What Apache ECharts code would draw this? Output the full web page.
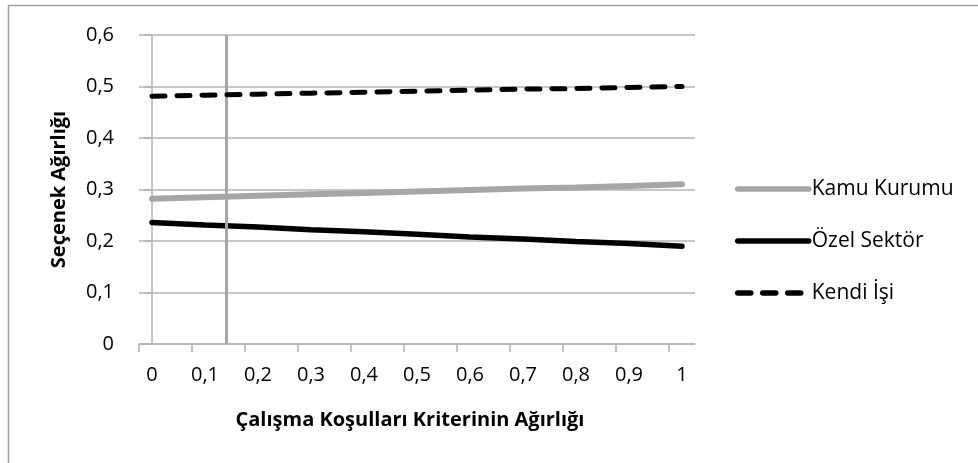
<!DOCTYPE html>
<html>
<head>
<meta charset="utf-8">
<script src="https://cdn.jsdelivr.net/npm/echarts@6/dist/echarts.min.js"></script>
<style>
  html, body { margin: 0; padding: 0; background: #fff; }
  #chart { width: 978px; height: 463px; }
</style>
</head>
<body>
<div id="chart"></div>
<script>
// x positions (criterion weight) and the three option weights
const xValues = [0, 0.1, 0.2, 0.3, 0.4, 0.5, 0.6, 0.7, 0.8, 0.9, 1]
const kamuKurumu = [0.282, 0.285, 0.288, 0.291, 0.293, 0.296, 0.299, 0.302, 0.304, 0.307, 0.310]
const ozelSektor = [0.236, 0.231, 0.227, 0.222, 0.218, 0.213, 0.208, 0.204, 0.199, 0.195, 0.190]
const kendiIsi = [0.481, 0.483, 0.485, 0.487, 0.489, 0.491, 0.493, 0.495, 0.496, 0.498, 0.500]
const currentWeight = 0.14
const xTickLabels = [0, 0.1, 0.2, 0.3, 0.4, 0.5, 0.6, 0.7, 0.8, 0.9, 1]

// excel puts the tick marks half a step off the labels
const xPad = 0.0245
const xTicks = xTickLabels.map(v => v - xPad)

const font = '"Open Sans", sans-serif'
const gridGray = '#b3b3b3'

const pair = arr => xValues.map((x, i) => [x, arr[i]])
const comma = v => String(Math.round(v * 10) / 10).replace('.', ',')

const chart = echarts.init(document.getElementById('chart'))
chart.setOption({
  animation: false,
  backgroundColor: '#fff',
  textStyle: { fontFamily: font },
  graphic: [{
    type: 'rect',
    shape: { x: 8.5, y: 5.5, width: 1000, height: 1000 },
    style: { fill: 'none', stroke: '#a0a0a0', lineWidth: 1.5 },
    silent: true,
  }],
  grid: { left: 139, right: 283, top: 35, bottom: 119 },
  legend: {
    orient: 'vertical',
    left: 735,
    top: 178,
    padding: 0,
    itemWidth: 71,
    itemHeight: 22,
    itemGap: 30,
    itemStyle: { opacity: 0 },
    lineStyle: { width: 5.5, cap: 'round' },
    textStyle: { color: '#000', fontSize: 21, fontFamily: font, lineHeight: 22, padding: [0, 0, 0, -2] },
    data: ['Kamu Kurumu', 'Özel Sektör', 'Kendi İşi'],
  },
  xAxis: {
    type: 'value',
    min: -xPad,
    max: 1 + xPad,
    name: 'Çalışma Koşulları Kriterinin Ağırlığı',
    nameLocation: 'middle',
    nameGap: 66,
    nameTextStyle: { color: '#000', fontSize: 20, fontWeight: 'bold', fontFamily: font, padding: [0, 14, 0, 0] },
    axisLine: { show: true, lineStyle: { color: gridGray, width: 1.5 } },
    axisTick: { show: true, length: 8, lineStyle: { color: gridGray, width: 1.5 }, customValues: xTicks },
    axisLabel: { color: '#000', fontSize: 20, margin: 21, customValues: xTickLabels, formatter: comma },
    splitLine: { show: false },
  },
  yAxis: {
    type: 'value',
    min: 0,
    max: 0.6,
    interval: 0.1,
    name: 'Seçenek Ağırlığı',
    nameLocation: 'middle',
    nameGap: 70,
    nameTextStyle: { color: '#000', fontSize: 20, fontWeight: 'bold', fontFamily: font },
    axisLine: { show: true, lineStyle: { color: gridGray, width: 1.5 } },
    axisTick: { show: true, length: 8, lineStyle: { color: gridGray, width: 1.5 } },
    axisLabel: { color: '#000', fontSize: 20, margin: 25, formatter: comma },
    splitLine: { lineStyle: { color: gridGray, width: 1.5 } },
  },
  series: [
    {
      name: 'Kamu Kurumu',
      type: 'line',
      data: pair(kamuKurumu),
      symbol: 'circle',
      showSymbol: false,
      lineStyle: { color: '#a6a6a6', width: 6, cap: 'round' },
      itemStyle: { color: '#a6a6a6' },
      markLine: {
        silent: true,
        symbol: 'none',
        label: { show: false },
        lineStyle: { color: '#a6a6a6', width: 3, type: 'solid' },
        data: [{ xAxis: currentWeight }],
      },
      z: 3,
    },
    {
      name: 'Özel Sektör',
      type: 'line',
      data: pair(ozelSektor),
      symbol: 'circle',
      showSymbol: false,
      lineStyle: { color: '#000', width: 5.5, cap: 'round' },
      itemStyle: { color: '#000' },
      z: 4,
    },
    {
      name: 'Kendi İşi',
      type: 'line',
      data: pair(kendiIsi),
      symbol: 'circle',
      showSymbol: false,
      lineStyle: { color: '#000', width: 5, type: [13, 12], cap: 'round' },
      itemStyle: { color: '#000' },
      z: 5,
    },
  ],
})
</script>
</body>
</html>
